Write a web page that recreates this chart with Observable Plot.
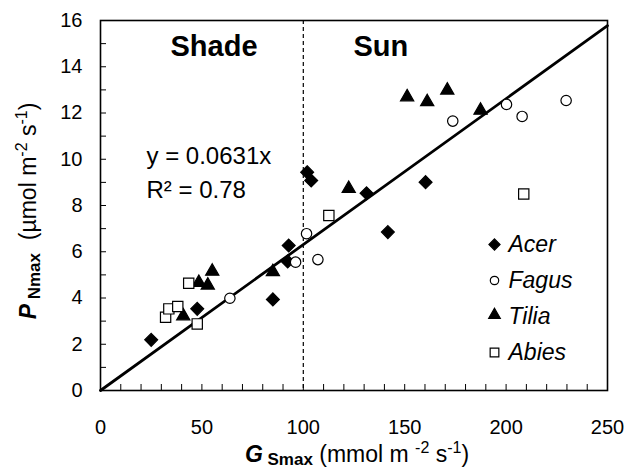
<!DOCTYPE html>
<html><head><meta charset="utf-8">
<script src="https://cdn.jsdelivr.net/npm/d3@7"></script>
<script src="https://cdn.jsdelivr.net/npm/@observablehq/plot@0.6"></script>
<style>
html,body{margin:0;padding:0;background:#fff;}
svg{display:block;}
text{white-space:pre;}
</style></head><body><div id="chart"></div>
<script>
// ---- data ----
const species = ["Acer", "Fagus", "Tilia", "Abies"];
const acerX = [25, 47.7, 85, 92.3, 92.8, 101.9, 103.9, 131.2, 141.7, 160.3];
const acerY = [2.19, 3.53, 3.94, 5.58, 6.27, 9.44, 9.08, 8.53, 6.85, 9.01];
const fagusX = [63.8, 96.2, 101.6, 107.2, 173.7, 200.2, 207.9, 229.6];
const fagusY = [3.99, 5.55, 6.78, 5.66, 11.65, 12.37, 11.85, 12.54];
const tiliaX = [40.8, 48.5, 52.9, 55.1, 85, 122.4, 151.2, 161.1, 171, 187.4];
const tiliaY = [3.14, 4.58, 4.47, 5.07, 5.05, 8.65, 12.61, 12.4, 12.9, 12.03];
const abiesX = [32.1, 33.7, 38.1, 43.5, 47.7, 112.6, 208.7];
const abiesY = [3.17, 3.53, 3.63, 4.64, 2.88, 7.57, 8.5];
const slope = 0.0631;
const r2 = 0.78;
const shadeSunBoundary = 100;
const regionLabels = ["Shade", "Sun"];
const xDomain = [0, 250];
const yDomain = [0, 16];
const xTickLabels = [0, 50, 100, 150, 200, 250];
const yTickLabels = [0, 2, 4, 6, 8, 10, 12, 14, 16];
const xMinorStep = 10;
const yMinorStep = 1;

// ---- layout / style ----
const W = 626, H = 472;
const M = {left: 100, right: 19, top: 20, bottom: 82};
const innerW = W - M.left - M.right, innerH = H - M.top - M.bottom;
const FONT = "Liberation Sans, Arial, Helvetica, sans-serif";
const styles = {
  Acer:  {symbol: d3.symbolDiamond2, fill: "#000", r: 5.8, lr: 5.0, dy: 0},
  Fagus: {symbol: "circle", fill: "#fff", r: 5.2, lr: 4.2, dy: 0},
  Tilia: {symbol: "triangle", fill: "#000", r: 4.9, lr: 4.3, dy: -1.9},
  Abies: {symbol: "square", fill: "#fff", r: 5.8, lr: 4.9, dy: 0}
};
const seriesData = {
  Acer: acerX.map((x, i) => ({x, y: acerY[i]})),
  Fagus: fagusX.map((x, i) => ({x, y: fagusY[i]})),
  Tilia: tiliaX.map((x, i) => ({x, y: tiliaY[i]})),
  Abies: abiesX.map((x, i) => ({x, y: abiesY[i]}))
};
const drawOrder = ["Acer", "Tilia", "Fagus", "Abies"];

const xMinor = d3.range(xDomain[0], xDomain[1] + 1e-9, xMinorStep);
const yMinor = d3.range(yDomain[0], yDomain[1] + 1e-9, yMinorStep);
const fitLine = xDomain.map(x => ({x, y: slope * x}));

const marks = [
  Plot.tickX(xMinor, {x: d => d, insetTop: innerH - 6, stroke: "#000", strokeWidth: 1}),
  Plot.tickY(yMinor, {y: d => d, insetRight: innerW - 6, stroke: "#000", strokeWidth: 1}),
  Plot.ruleX([shadeSunBoundary], {stroke: "#000", strokeWidth: 1.2, strokeDasharray: "4,3"}),
  Plot.line(fitLine, {x: "x", y: "y", stroke: "#000", strokeWidth: 2.8}),
  ...drawOrder.map(s => Plot.dot(seriesData[s], {
    x: "x", y: "y", symbol: styles[s].symbol, r: styles[s].r, dy: styles[s].dy,
    fill: styles[s].fill, stroke: "#000", strokeWidth: 1.2
  })),
  Plot.frame({stroke: "#000", strokeWidth: 1.6}),
  Plot.axisX(xTickLabels, {tickSize: 0, tickPadding: 29, fontSize: 20, label: null}),
  Plot.axisY(yTickLabels, {tickSize: 0, tickPadding: 18, fontSize: 20, label: null}),
  Plot.text([regionLabels[0]], {frameAnchor: "top-left", dx: 70, dy: 35, text: d => d, lineAnchor: "bottom", textAnchor: "start", fontWeight: "bold", fontSize: 29}),
  Plot.text([regionLabels[1]], {frameAnchor: "top-left", dx: 253, dy: 35, text: d => d, lineAnchor: "bottom", textAnchor: "start", fontWeight: "bold", fontSize: 29}),
  Plot.text([`y = ${slope}x`], {frameAnchor: "top-left", dx: 46, dy: 143, text: d => d, lineAnchor: "bottom", textAnchor: "start", fontSize: 24}),
  Plot.text([`R\u00B2 = ${r2}`], {frameAnchor: "top-left", dx: 46, dy: 177, text: d => d, lineAnchor: "bottom", textAnchor: "start", fontSize: 24})
];
species.forEach((s, i) => {
  marks.push(Plot.dot([s], {frameAnchor: "top-left", dx: 394, dy: 224 + i * 36 + styles[s].dy * 0.8,
    symbol: styles[s].symbol, r: styles[s].lr, fill: styles[s].fill, stroke: "#000", strokeWidth: 1.2}));
  marks.push(Plot.text([s], {frameAnchor: "top-left", dx: 408, dy: 224 + i * 36, text: d => d,
    textAnchor: "start", lineAnchor: "middle", fontStyle: "italic", fontSize: 23}));
});

const chart = Plot.plot({
  width: W, height: H,
  marginLeft: M.left, marginRight: M.right, marginTop: M.top, marginBottom: M.bottom,
  x: {domain: xDomain},
  y: {domain: yDomain},
  style: {fontFamily: FONT, fontSize: "20px", color: "#000", background: "#fff"},
  marks
});
document.getElementById("chart").appendChild(chart);

// axis titles with sub/superscripts
const svg = d3.select(chart);
const xt = svg.append("text").attr("x", 357).attr("y", 462).attr("text-anchor", "middle")
  .attr("font-family", FONT).attr("font-size", 23).attr("fill", "#000");
xt.append("tspan").attr("font-weight", "bold").attr("font-style", "italic").text("G");
xt.append("tspan").attr("font-weight", "bold").attr("font-size", 17).attr("dy", 3).text(" Smax");
xt.append("tspan").attr("dy", -3).text(" (mmol m ");
xt.append("tspan").attr("font-size", 16).attr("dy", -9).text("-2");
xt.append("tspan").attr("dy", 9).text(" s");
xt.append("tspan").attr("font-size", 16).attr("dy", -9).text("-1");
xt.append("tspan").attr("dy", 9).text(")");

const yt = svg.append("text").attr("transform", "translate(36,211) rotate(-90)").attr("text-anchor", "middle")
  .attr("font-family", FONT).attr("font-size", 23).attr("fill", "#000");
yt.append("tspan").attr("font-weight", "bold").attr("font-style", "italic").text("P");
yt.append("tspan").attr("font-weight", "bold").attr("font-size", 17).attr("dy", 4).text(" Nmax");
yt.append("tspan").attr("dy", -4).text("  (\u00B5mol m");
yt.append("tspan").attr("font-size", 16).attr("dy", -9).text("-2");
yt.append("tspan").attr("dy", 9).text(" s");
yt.append("tspan").attr("font-size", 16).attr("dy", -9).text("-1");
yt.append("tspan").attr("dy", 9).text(")");
</script>
</body></html>
